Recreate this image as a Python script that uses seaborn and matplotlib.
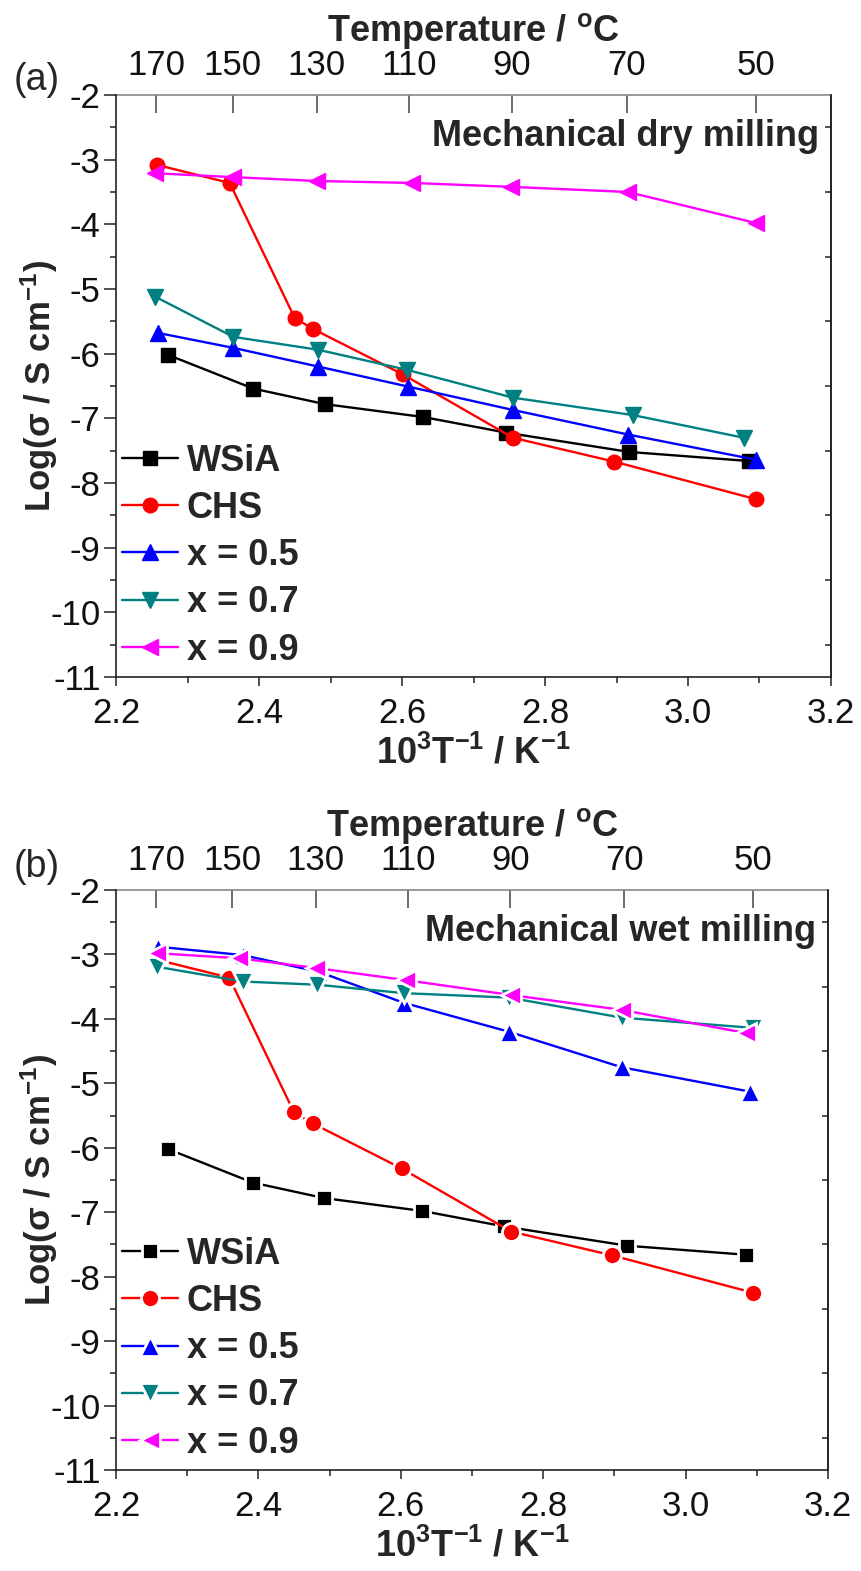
import numpy as np
import matplotlib
matplotlib.use("Agg")
import matplotlib.pyplot as plt
import seaborn as sns
from matplotlib.ticker import MultipleLocator, FixedLocator, NullLocator

# ---------------- data ----------------
series_names = ["WSiA", "CHS", "x = 0.5", "x = 0.7", "x = 0.9"]
temp_ticks = [170, 150, 130, 110, 90, 70, 50]

wsia_x = [2.273, 2.392, 2.492, 2.630, 2.745, 2.918, 3.085]
wsia_y = [-6.02, -6.54, -6.78, -6.98, -7.22, -7.52, -7.66]
chs_x = [2.257, 2.359, 2.450, 2.476, 2.601, 2.755, 2.897, 3.095]
chs_y = [-3.08, -3.36, -5.45, -5.62, -6.32, -7.30, -7.67, -8.25]

# (a) mechanical dry milling
dry05_x = [2.259, 2.364, 2.483, 2.609, 2.755, 2.916, 3.095]
dry05_y = [-5.68, -5.91, -6.20, -6.51, -6.87, -7.25, -7.64]
dry07_x = [2.255, 2.364, 2.483, 2.607, 2.755, 2.923, 3.078]
dry07_y = [-5.12, -5.74, -5.94, -6.25, -6.68, -6.95, -7.30]
dry09_x = [2.255, 2.364, 2.481, 2.614, 2.752, 2.916, 3.095]
dry09_y = [-3.21, -3.27, -3.33, -3.36, -3.42, -3.50, -3.98]

# (b) mechanical wet milling
wet05_x = [2.259, 2.378, 2.485, 2.604, 2.752, 2.910, 3.091]
wet05_y = [-2.88, -3.01, -3.27, -3.75, -4.20, -4.75, -5.13]
wet07_x = [2.257, 2.378, 2.483, 2.604, 2.752, 2.910, 3.095]
wet07_y = [-3.19, -3.42, -3.47, -3.60, -3.67, -3.98, -4.14]
wet09_x = [2.257, 2.373, 2.481, 2.608, 2.755, 2.910, 3.085]
wet09_y = [-2.98, -3.06, -3.21, -3.40, -3.63, -3.86, -4.22]

colors = ["#000000", "#FF0000", "#0000FF", "#008080", "#FF00FF"]
markers = ["s", "o", "^", "v", "<"]
msizes = [9.5, 10.5, 12, 12, 12]

# ---------------- style ----------------
sns.set_theme(style="ticks")
plt.rcParams["font.family"] = ["Liberation Sans", "DejaVu Sans"]
plt.rcParams["axes.unicode_minus"] = False
plt.rcParams["mathtext.fontset"] = "custom"
plt.rcParams["mathtext.rm"] = "Liberation Sans"
plt.rcParams["mathtext.bf"] = "Liberation Sans:bold"
plt.rcParams["mathtext.it"] = "Liberation Sans:italic"

W, H = 862, 1571
fig = plt.figure(figsize=(W / 100, H / 100), dpi=100)
fig.patch.set_facecolor("white")

SPINE = "#222222"
TICK_FS = 25
LABEL_FS = 26


def inv2c(x):
    x = np.asarray(x, dtype=float)
    with np.errstate(divide="ignore", invalid="ignore"):
        return 1000.0 / x - 273.15


def c2inv(t):
    t = np.asarray(t, dtype=float)
    with np.errstate(divide="ignore", invalid="ignore"):
        return 1000.0 / (t + 273.15)


def make_panel(rect, xs, ys, gap, note, tag, tag_y):
    ax = fig.add_axes(rect)
    ax.set_facecolor("white")
    for name, x, y, c, m, ms in zip(series_names, xs, ys, colors, markers, msizes):
        if gap:
            kw = dict(markeredgecolor="white", markeredgewidth=2.0, markersize=ms + 2.5)
        else:
            kw = dict(markeredgecolor=c, markeredgewidth=1.0, markersize=ms)
        sns.lineplot(x=x, y=y, ax=ax, color=c, marker=m, linewidth=1.7,
                     label=name, sort=False, estimator=None, **kw)

    ax.set_xlim(2.2, 3.2)
    ax.set_ylim(-11, -2)
    ax.xaxis.set_major_locator(MultipleLocator(0.2))
    ax.xaxis.set_minor_locator(MultipleLocator(0.1))
    ax.yaxis.set_major_locator(MultipleLocator(1))
    ax.yaxis.set_minor_locator(MultipleLocator(0.5))
    ax.tick_params(axis="both", which="major", direction="out", width=1.1,
                   labelsize=TICK_FS, colors=SPINE, labelcolor="#111111")
    ax.tick_params(axis="y", which="major", length=9, pad=2)
    ax.tick_params(axis="x", which="major", length=6.5, pad=8)
    ax.tick_params(axis="both", which="minor", direction="out", length=4.5, width=1.1,
                   colors=SPINE)
    ax.tick_params(top=False, right=False, which="both")
    ax.set_xticklabels([f"{v:.1f}" for v in ax.get_xticks()])

    for s in ["left", "bottom", "right"]:
        ax.spines[s].set_color(SPINE)
        ax.spines[s].set_linewidth(1.2)
    ax.spines["top"].set_visible(False)

    # right side ticks (inward, half values)
    secy = ax.secondary_yaxis("right")
    secy.yaxis.set_major_locator(FixedLocator(np.arange(-10.5, -2.0, 1.0)))
    secy.yaxis.set_minor_locator(NullLocator())
    secy.tick_params(direction="in", length=4, width=1.1, colors=SPINE, labelright=False)
    secy.spines["right"].set_color(SPINE)
    secy.spines["right"].set_linewidth(1.2)

    # top temperature axis
    secx = ax.secondary_xaxis("top", functions=(inv2c, c2inv))
    secx.xaxis.set_major_locator(FixedLocator(temp_ticks))
    secx.xaxis.set_minor_locator(NullLocator())
    secx.tick_params(direction="in", length=13, width=1.1, colors="#444444",
                     labelsize=TICK_FS, labelcolor="#111111", pad=9)
    secx.spines["top"].set_color("#8a8a8a")
    secx.spines["top"].set_linewidth(1.2)
    secx.set_xlabel(r"Temperature / $^{\mathbf{o}}$C", fontsize=LABEL_FS,
                    fontweight="bold", labelpad=6)

    ax.set_xlabel(r"10$^{\mathbf{3}}$T$^{\mathbf{-1}}$ / K$^{\mathbf{-1}}$",
                  fontsize=LABEL_FS, fontweight="bold", labelpad=4)
    ax.set_ylabel(r"Log(σ / S cm$^{\mathbf{-1}}$)", fontsize=25, fontweight="bold")
    ax.yaxis.set_label_coords(-0.078, 0.5)

    ax.text(0.983, 0.928, note, transform=ax.transAxes, ha="right", va="center",
            fontsize=LABEL_FS, fontweight="bold")

    ax.legend(loc="lower left", bbox_to_anchor=(0.008, 0.016), frameon=False,
              borderaxespad=0, borderpad=0, handlelength=1.55,
              handletextpad=0.25, labelspacing=0.34,
              prop={"size": LABEL_FS, "weight": "bold"})
    fig.text(37 / W, 1 - tag_y / H, tag, fontsize=27, ha="center", va="center")
    return ax


make_panel([116 / W, 1 - 677 / H, 715 / W, 582 / H],
           [wsia_x, chs_x, dry05_x, dry07_x, dry09_x],
           [wsia_y, chs_y, dry05_y, dry07_y, dry09_y],
           False, "Mechanical dry milling", "(a)", 80)
make_panel([116 / W, 1 - 1470 / H, 712 / W, 580 / H],
           [wsia_x, chs_x, wet05_x, wet07_x, wet09_x],
           [wsia_y, chs_y, wet05_y, wet07_y, wet09_y],
           True, "Mechanical wet milling", "(b)", 867)

fig.savefig("out.png", dpi=100, facecolor="white")
